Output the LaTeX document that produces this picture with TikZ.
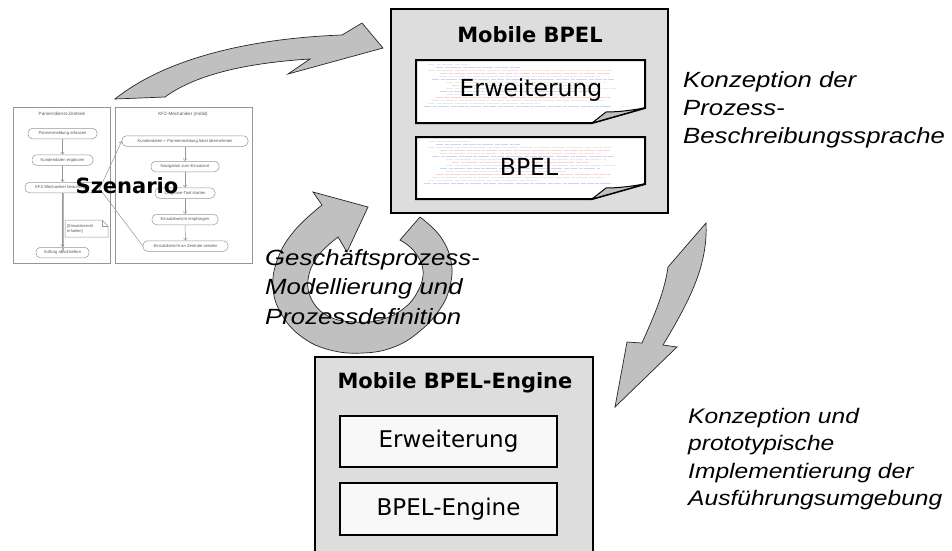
\documentclass[tikz,border=0pt]{standalone}
\usepackage{fontspec}
\setmainfont{Liberation Sans}
\newfontfamily\captionfont{Liberation Sans}[FakeStretch=1.17]
\newfontfamily\boxfont{DejaVu Sans}
\usetikzlibrary{arrows.meta}

\definecolor{boxgray}{RGB}{221,221,221}
\definecolor{arrowgray}{RGB}{192,192,192}
\definecolor{paper}{RGB}{248,248,248}
\definecolor{lanegray}{RGB}{150,150,150}
\definecolor{acttext}{RGB}{90,90,90}

\tikzset{
  outerbox/.style={draw=black, line width=2pt, fill=boxgray, inner sep=0pt},
  innerbox/.style={draw=black, line width=2pt, fill=paper, inner sep=0pt,
    font=\boxfont\fontsize{23}{23}\selectfont},
  doclabel/.style={font=\boxfont\fontsize{23.5}{23.5}\selectfont, inner sep=0pt},
  boxtitle/.style={font=\boxfont\bfseries\fontsize{21}{21}\selectfont, inner sep=0pt},
  bigarrow/.style={fill=arrowgray, draw=black!85, line width=0.7pt, line join=miter},
  flap/.style={fill=arrowgray, draw=black, line width=1pt},
  docpage/.style={fill=white, draw=black, line width=2pt, line join=miter},
  capt/.style={font=\captionfont\itshape\fontsize{22}{22}\selectfont, anchor=base west, inner sep=0pt},
  captsmall/.style={font=\captionfont\itshape\fontsize{21}{21}\selectfont, anchor=base west, inner sep=0pt},
  lane/.style={draw=lanegray, line width=0.5pt},
  lanetitle/.style={font=\fontsize{4.6}{5}\selectfont, text=acttext, inner sep=0pt},
  act/.style={draw=lanegray, rounded corners=4.5pt, fill=white, line width=0.5pt,
    font=\fontsize{4.2}{5}\selectfont, text=acttext, minimum height=10.5pt, inner sep=0.5pt},
  flow/.style={draw=lanegray, line width=0.5pt, -{Straight Barb[length=2.2pt,width=3.6pt]}},
}

% faint rows of source code printed on a page
\newcommand{\codelines}[1]{%
  \foreach \dy/\xa/\xb/\col in {0/428/470/gray, 3/436/520/blue, 6/428/612/gray,
      9/440/610/red, 12/440/600/gray, 15/432/614/blue, 18/446/606/gray,
      21/452/590/red, 24/446/616/gray, 27/440/600/blue, 30/446/566/gray,
      33/436/612/red, 36/432/604/gray, 39/428/540/gray, 42/424/612/blue}
    \draw[\col!18, line width=0.7pt,
      dash pattern=on 7pt off 1.5pt on 4pt off 1pt on 11pt off 2pt on 5pt off 1pt]
      (\xa,#1+\dy) -- (\xb,#1+\dy);
}

\begin{document}
\begin{tikzpicture}[x=1pt, y=-1pt]
\useasboundingbox (0,0) rectangle (952,550);
\fill[white] (0,0) rectangle (952,550);

% ---------- scenario: activity diagram with two swimlanes ----------
\draw[lane] (13,107) rectangle (110,263);
\draw[lane] (115,107) rectangle (252,263);
\node[lanetitle] (laneA) at (62,114) {Pannendienst-Zentrale};
\node[lanetitle] (laneB) at (183,114) {KFZ-Mechaniker (mobil)};

\node[act, minimum width=69pt] (p1) at (62.5,133.5) {Pannenmeldung erfassen};
\node[act, minimum width=61pt] (p2) at (62.5,160) {Kundendaten ergänzen};
\node[act, minimum width=75pt] (p3) at (62.5,187.5) {KFZ-Mechaniker beauftragen};
\node[act, minimum width=53pt] (p4) at (62.5,252.5) {Auftrag abschließen};

\node[act, minimum width=126pt] (m1) at (185,141) {Kundendaten + Pannenmeldung lokal übernehmen};
\node[act, minimum width=68pt] (m2) at (185,166.5) {Navigation zum Einsatzort};
\node[act, minimum width=60pt] (m3) at (185,193) {Diagnose-Tool starten};
\node[act, minimum width=66pt] (m4) at (185,219.5) {Einsatzbericht empfangen};
\node[act, minimum width=85pt] (m5) at (185.5,246) {Einsatzbericht an Zentrale senden};

% note with folded corner
\draw[lane, fill=white] (65,220) -- (102,220) -- (108,226) -- (108,237) -- (65,237) -- cycle;
\draw[lane] (102,220) -- (102,226) -- (108,226);
\node[font=\fontsize{4}{4.6}\selectfont, text=acttext, align=left, anchor=west, inner sep=0pt]
  (note) at (67,229) {[Einsatzbericht\\erhalten]};

\draw[flow] (p1) -- (p2);
\draw[flow] (p2) -- (p3);
\draw[draw=lanegray!70, line width=2pt] (p3.south) -- ([yshift=-4pt]p4.north);
\draw[flow] (p3.south) -- (p4.north);
\draw[flow] (m1) -- (m2);
\draw[flow] (m2) -- (m3);
\draw[flow] (m3) -- (m4);
\draw[flow] (m4) -- (m5);
\draw[flow] (p3.east) -- (m1.west);
\draw[lane] ([yshift=-2pt]p3.east) -- (m5.west);

\node[font=\boxfont\bfseries\fontsize{21}{21}\selectfont, inner sep=0pt] (szen) at (127,186) {Szenario};

% ---------- curved arrow from the scenario to Mobile BPEL ----------
\draw[bigarrow] (115,99) .. controls (170,55) and (260,38) .. (342,35)
  -- (362,23) -- (383,48) -- (288,74) -- (310,59)
  .. controls (245,63) and (195,75) .. (165,97) -- cycle;

% ---------- Mobile BPEL ----------
\node[outerbox, minimum width=277pt, minimum height=204pt] (mbpel) at (529.5,111) {};
\node[boxtitle] (mbpelTitle) at (530,35) {Mobile BPEL};

\draw[docpage] (416,60) -- (645,60) -- (645,108) -- (592,123) -- (416,123) -- cycle;
\codelines{64}
\draw[flap] (592,123) -- (606,112) .. controls (620,112) and (632,110) .. (645,108) -- cycle;
\node[doclabel] (docExt) at (531,90) {Erweiterung};

\draw[docpage] (416,137) -- (645,137) -- (645,184) -- (592,199) -- (416,199) -- cycle;
\codelines{141}
\draw[flap] (592,199) -- (606,188) .. controls (620,188) and (632,186) .. (645,184) -- cycle;
\node[doclabel] (docBpel) at (529,167) {BPEL};

% ---------- right arrow down to the engine ----------
\draw[bigarrow] (706,223) -- (668,267) .. controls (664,295) and (652,320) .. (642,343)
  -- (627,342) -- (615,407) -- (677,347) -- (663,345)
  .. controls (690,300) and (708,265) .. (706,223) -- cycle;

% ---------- circular arrow ----------
\draw[bigarrow] (322,205) -- (313,192) -- (368,207) -- (347,252) -- (338,237)
  -- plot[smooth, tension=0.7] coordinates {(338,237) (318,256) (308,280) (313,302)
     (330,317) (355,322) (380,320) (403,309) (418,291) (423,270) (414,251) (400,240)}
  -- (420,217)
  -- plot[smooth, tension=0.7] coordinates {(420,217) (440,236) (451,261) (450,286)
     (440,309) (420,331) (394,347) (363,353) (330,350) (302,337) (282,315) (273,288)
     (278,258) (295,230) (322,205)}
  -- cycle;

% ---------- Mobile BPEL-Engine ----------
\node[outerbox, minimum width=278pt, minimum height=199pt] (engine) at (454,456.5) {};
\node[boxtitle] (engineTitle) at (455,383) {Mobile BPEL-Engine};
\node[innerbox, minimum width=217pt, minimum height=51pt] (engExt) at (448.5,441.5) {Erweiterung};
\node[innerbox, minimum width=217pt, minimum height=52pt] (engCore) at (448.5,509) {BPEL-Engine};

% ---------- captions ----------
\node[capt] (gp1) at (265,265) {Geschäftsprozess-};
\node[capt] (gp2) at (265,294.5) {Modellierung und};
\node[capt] (gp3) at (265,324) {Prozessdefinition};

\node[capt] (kb1) at (683,87) {Konzeption der};
\node[capt] (kb2) at (683,115) {Prozess-};
\node[capt] (kb3) at (683,143) {Beschreibungssprache};

\node[captsmall] (ka1) at (688,423) {Konzeption und};
\node[captsmall] (ka2) at (688,450.5) {prototypische};
\node[captsmall] (ka3) at (688,478) {Implementierung der};
\node[captsmall] (ka4) at (688,505.5) {Ausführungsumgebung};
\end{tikzpicture}
\end{document}
